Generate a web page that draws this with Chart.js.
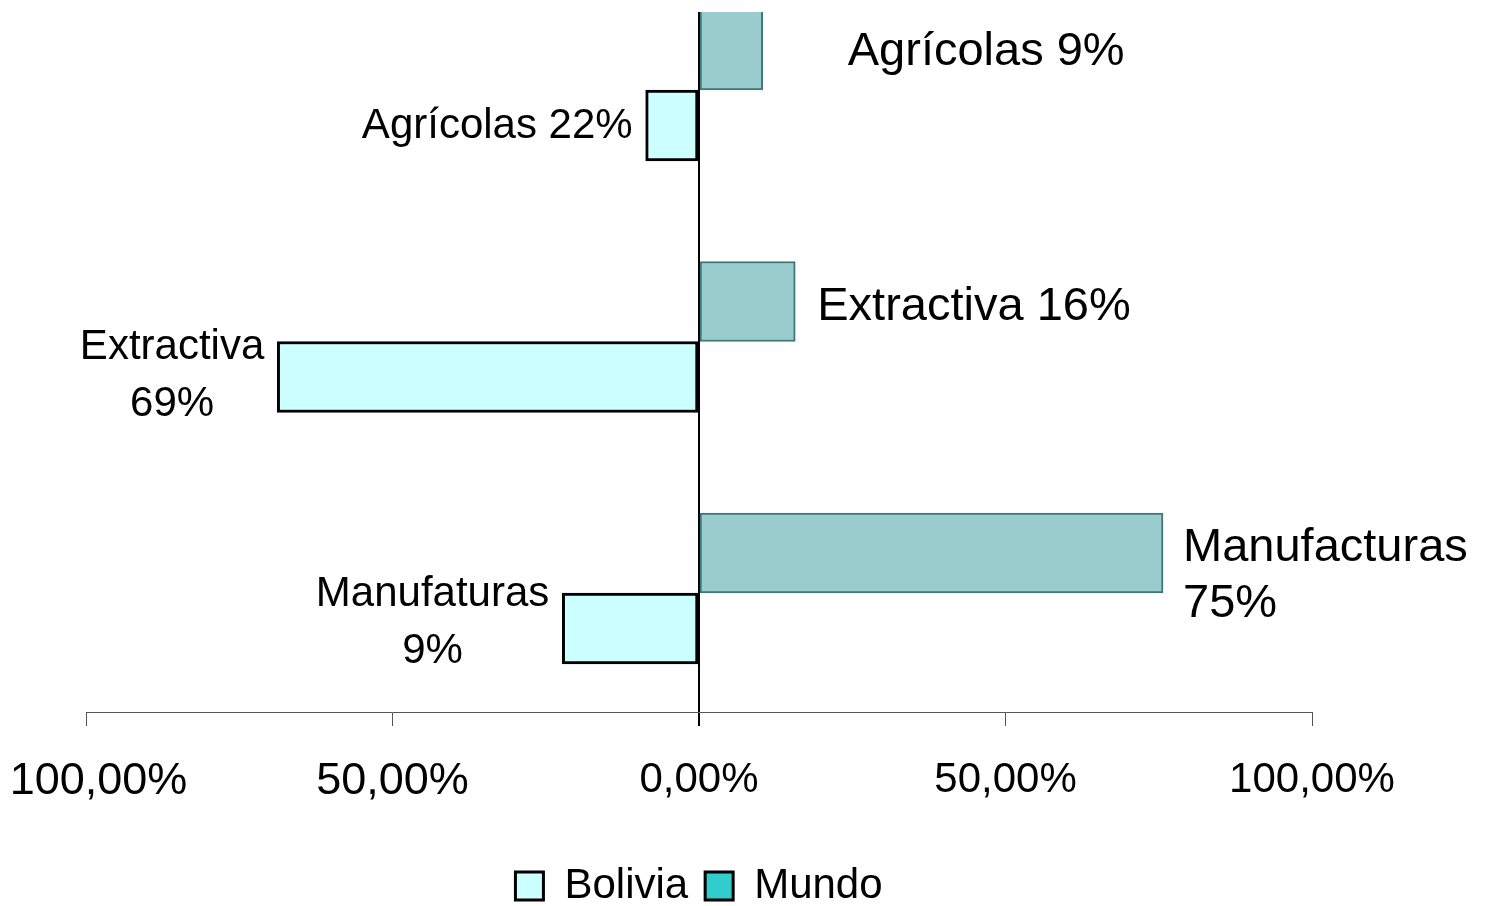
<!DOCTYPE html>
<html>
<head>
<meta charset="utf-8">
<script src="https://cdn.jsdelivr.net/npm/chart.js@4.4.0/dist/chart.umd.min.js"></script>
<style>
  body { margin: 0; background: #fff; }
  #wrap { width: 1487px; height: 906px; }
</style>
</head>
<body>
<div id="wrap"><canvas id="barChart"></canvas></div>
<script>
const categories = ['Agrícolas', 'Extractiva', 'Manufacturas'];
const bolivia = [-8.7, -68.8, -22.3];
const mundo = [10.4, 15.7, 75.7];
const boliviaText = ['Agrícolas 22%', 'Extractiva\n69%', 'Manufaturas\n9%'];
const mundoText = ['Agrícolas 9%', 'Extractiva 16%', 'Manufacturas\n75%'];
const xTicks = [-100, -50, 0, 50, 100];

const FONT = "'Liberation Sans', Arial, sans-serif";

// label placement tweaks (px)
const mundoGap = [85, 22, 20];
const mundoDy = [2, 6, 23];
const boliviaDy = [1, -1, -6];

const barText = {
  id: 'barText',
  afterDatasetsDraw(chart) {
    const ctx = chart.ctx;
    ctx.save();
    ctx.fillStyle = '#000';
    ctx.textBaseline = 'middle';

    ctx.font = '47px ' + FONT;
    ctx.textAlign = 'left';
    chart.getDatasetMeta(0).data.forEach((bar, i) => {
      const lines = mundoText[i].split('\n');
      const lh = 56;
      let y = bar.y + mundoDy[i] - (lines.length - 1) * lh / 2;
      lines.forEach(t => { ctx.fillText(t, bar.x + mundoGap[i], y); y += lh; });
    });

    ctx.font = '42px ' + FONT;
    ctx.textAlign = 'center';
    chart.getDatasetMeta(1).data.forEach((bar, i) => {
      const lines = boliviaText[i].split('\n');
      const lh = 57;
      const w = Math.max(...lines.map(t => ctx.measureText(t).width));
      const cx = bar.x - 13 - w / 2;
      let y = bar.y + boliviaDy[i] - (lines.length - 1) * lh / 2;
      lines.forEach(t => { ctx.fillText(t, cx, y); y += lh; });
    });
    ctx.restore();
  }
};

const isZero = c => c.tick && c.tick.value === 0;

new Chart(document.getElementById('barChart'), {
  type: 'bar',
  data: {
    labels: categories,
    datasets: [{
      label: 'Mundo',
      data: mundo.map((v, i) => ({ x: v, y: i })),
      backgroundColor: '#99CCCC',
      borderColor: '#3F7676',
      borderWidth: 2,
      borderSkipped: false,
      barThickness: 80
    },
    {
      label: 'Bolivia',
      data: bolivia.map((v, i) => ({ x: v, y: i })),
      backgroundColor: '#CCFFFF',
      borderColor: '#000',
      borderWidth: 3,
      borderSkipped: false,
      barThickness: 71
    }]
  },
  options: {
    indexAxis: 'y',
    responsive: true,
    maintainAspectRatio: false,
    animation: false,
    layout: { padding: { top: 12, right: 175, left: 86, bottom: -11 } },
    scales: {
      y: {
        type: 'linear',
        display: false,
        reverse: true,
        offset: false,
        min: -0.31,
        max: 2.473
      },
      x: {
        min: -100,
        max: 100,
        afterBuildTicks: s => { s.ticks = xTicks.map(v => ({ value: v })); },
        afterFit: s => { s.paddingLeft = 0; s.height = 136; },
        grid: {
          drawOnChartArea: true,
          color: c => isZero(c) ? '#000' : 'rgba(0,0,0,0)',
          lineWidth: c => isZero(c) ? 2 : 1,
          tickColor: c => isZero(c) ? '#000' : '#555',
          tickWidth: c => isZero(c) ? 2 : 1,
          tickLength: 14
        },
        border: { color: '#555', width: 1 },
        ticks: {
          padding: 29,
          color: '#000',
          maxRotation: 0,
          autoSkip: false,
          font: c => ({ family: FONT, size: c.index < 2 ? 45 : 42 }),
          callback: (v, i) => (i === 0 ? '  ' : '') + Math.abs(v).toFixed(2).replace('.', ',') + '%'
        }
      }
    },
    plugins: {
      tooltip: { enabled: false },
      legend: {
        position: 'bottom',
        labels: {
          color: '#000',
          font: { family: FONT, size: 42, lineHeight: 1 },
          boxWidth: 28,
          boxHeight: 28,
          padding: 17,
          generateLabels: () => [
            { text: 'Bolivia', fillStyle: '#CCFFFF', strokeStyle: '#000', lineWidth: 3, datasetIndex: 1 },
            { text: 'Mundo', fillStyle: '#33CCCC', strokeStyle: '#000', lineWidth: 3, datasetIndex: 0 }
          ]
        }
      }
    }
  },
  plugins: [barText]
});
</script>
</body>
</html>
